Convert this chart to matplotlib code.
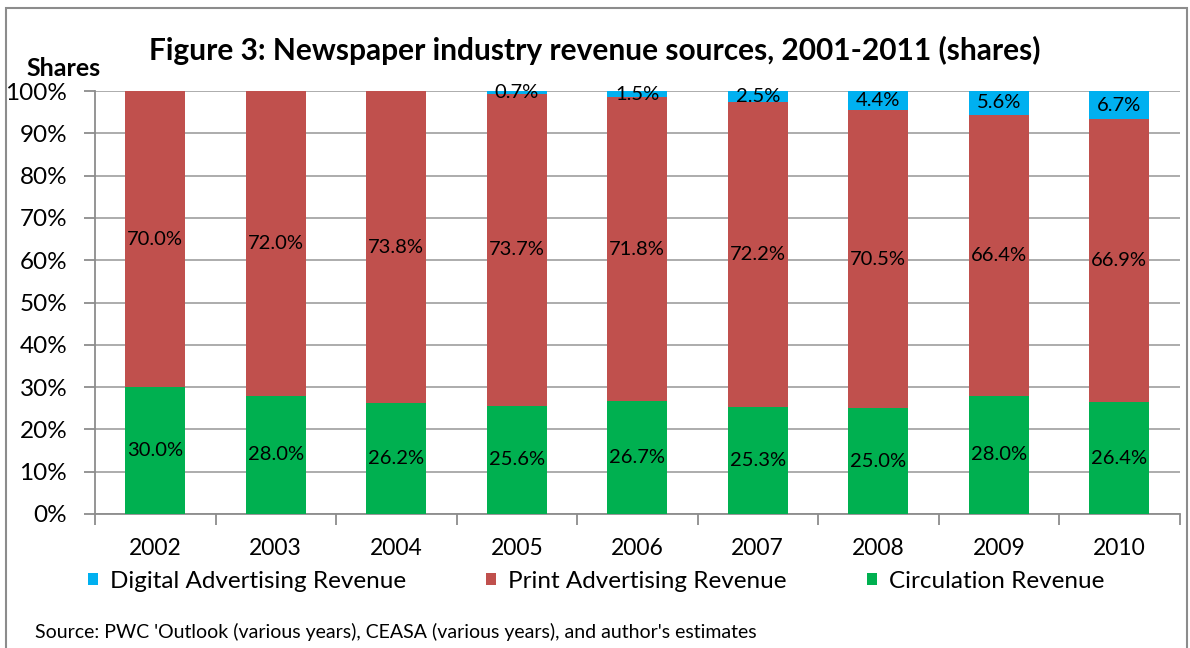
import matplotlib
matplotlib.use("Agg")
import matplotlib.pyplot as plt
from matplotlib.patches import Rectangle
import numpy as np

plt.rcParams['font.family'] = ['Lato', 'DejaVu Sans']

years = ['2002', '2003', '2004', '2005', '2006', '2007', '2008', '2009', '2010']
circulation = [30.0, 28.0, 26.2, 25.6, 26.7, 25.3, 25.0, 28.0, 26.4]
print_ads = [70.0, 72.0, 73.8, 73.7, 71.8, 72.2, 70.5, 66.4, 66.9]
digital = [0.0, 0.0, 0.0, 0.7, 1.5, 2.5, 4.4, 5.6, 6.7]

series_names = ['Digital Advertising Revenue', 'Print Advertising Revenue', 'Circulation Revenue']
colors = {'digital': '#00B0F0', 'print': '#C0504D', 'circ': '#00B050'}

W, H = 1190, 648
fig = plt.figure(figsize=(W / 100, H / 100), dpi=100)
fig.patch.set_facecolor('white')

# figure frame
fig.patches.append(Rectangle((6 / W, -0.05), (1187 - 6) / W, 1.05 - 8 / H,
                             transform=fig.transFigure, fill=False,
                             edgecolor='#8c8c8c', linewidth=1.5))

ax = fig.add_axes([95 / W, 1 - 514 / H, (1179.5 - 95) / W, (514 - 91) / H])
x = np.arange(len(years))
c = np.array(circulation) / 100
p = np.array(print_ads) / 100
d = np.array(digital) / 100
bw = 0.5

b_c = ax.bar(x, c, bw, color=colors['circ'], label=series_names[2], zorder=3)
b_p = ax.bar(x, p, bw, bottom=c, color=colors['print'], label=series_names[1], zorder=3)
b_d = ax.bar(x, d, bw, bottom=c + p, color=colors['digital'], label=series_names[0], zorder=3)

lab_fs = 14.5
for i in range(len(years)):
    ax.text(x[i], c[i] / 2, f'{circulation[i]:.1f}%', ha='center', va='center',
            fontsize=lab_fs, color='black', zorder=4)
    ax.text(x[i], c[i] + p[i] / 2, f'{print_ads[i]:.1f}%', ha='center', va='center',
            fontsize=lab_fs, color='black', zorder=4)
    if digital[i] > 0:
        ax.text(x[i], c[i] + p[i] + d[i] / 2, f'{digital[i]:.1f}%', ha='center',
                va='center', fontsize=lab_fs, color='black', zorder=4)

ax.set_xlim(-0.5, len(years) - 0.5)
ax.set_ylim(0, 1)
ax.set_yticks(np.arange(0, 1.01, 0.1))
ax.set_yticklabels([f'{int(round(v * 100))}%' for v in np.arange(0, 1.01, 0.1)], fontsize=17.5)
ax.yaxis.grid(True, color='#a6a6a6', linewidth=1.3, zorder=0)
ax.set_axisbelow(True)

ax.set_xticks(x)
ax.set_xticklabels(years, fontsize=16.5)
ax.set_xticks(np.arange(-0.5, len(years)), minor=True)
ax.tick_params(axis='x', which='major', length=0, pad=17)
ax.tick_params(axis='x', which='minor', length=8, color='#8c8c8c', width=1.3)
ax.tick_params(axis='y', length=8, color='#8c8c8c', width=1.3, pad=12)

for side in ['top', 'right']:
    ax.spines[side].set_visible(False)
for side in ['left', 'bottom']:
    ax.spines[side].set_color('#8c8c8c')
    ax.spines[side].set_linewidth(1.3)

fig.text(595 / W, 1 - 50 / H, 'Figure 3: Newspaper industry revenue sources, 2001-2011 (shares)',
         ha='center', va='center', fontsize=21.5, fontweight='bold')
fig.text(64 / W, 1 - 68 / H, 'Shares', ha='center', va='center', fontsize=18, fontweight='bold')

handles = [b_d, b_p, b_c]
leg = fig.legend(handles, series_names, loc='center left', bbox_to_anchor=(88 / W, 1 - 581 / H),
                 ncol=3, frameon=False, fontsize=17.5, handlelength=0.4, handleheight=0.4,
                 handletextpad=0.5, columnspacing=3.3, borderpad=0, borderaxespad=0)

fig.text(35 / W, 1 - 632 / H,
         "Source: PWC 'Outlook (various years), CEASA (various years), and author's estimates",
         ha='left', va='center', fontsize=14)

fig.savefig('out.png', dpi=100)
